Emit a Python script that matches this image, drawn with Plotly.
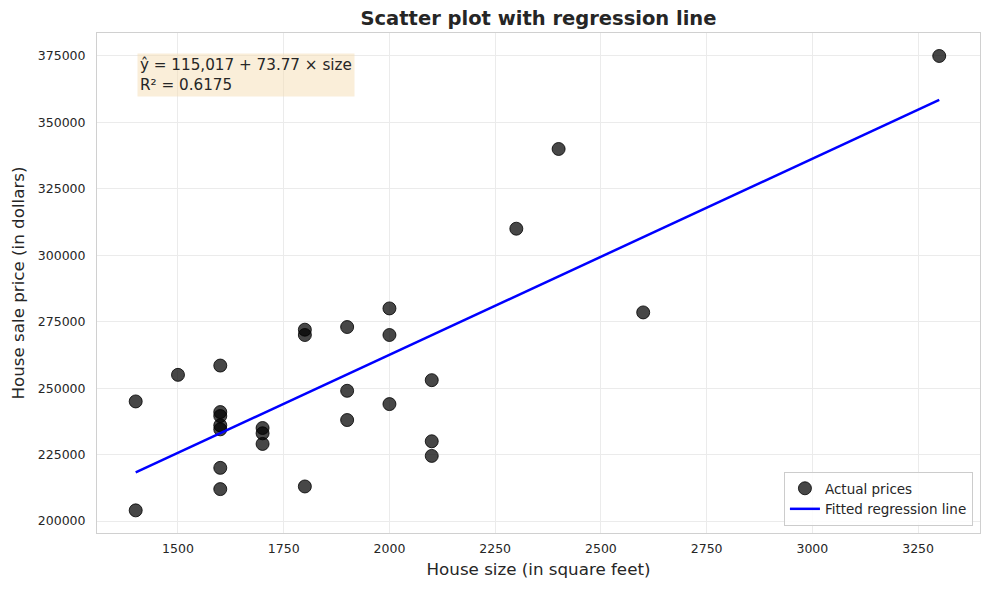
import plotly.graph_objects as go

# Data
house_size = [1400, 1400, 1500, 1600, 1600, 1600, 1600, 1600, 1600, 1600,
              1700, 1700, 1700, 1800, 1800, 1800, 1900, 1900, 1900,
              2000, 2000, 2000, 2100, 2100, 2100, 2300, 2400, 2600, 3300]
sale_price = [245000, 204000, 255000, 258500, 241000, 239500, 236000, 234500, 220000, 212000,
              235000, 233000, 229000, 272000, 270000, 213000, 273000, 249000, 238000,
              280000, 270000, 244000, 253000, 230000, 224500, 310000, 340000, 278500, 375000]
intercept = 115017
slope = 73.77
r_squared = 0.6175

x_ticks = [1500, 1750, 2000, 2250, 2500, 2750, 3000, 3250]
y_ticks = [200000, 225000, 250000, 275000, 300000, 325000, 350000, 375000]

line_x = [min(house_size), max(house_size)]
line_y = [intercept + slope * v for v in line_x]

FONT = "DejaVu Sans"
TXT = "#262626"

fig = go.Figure()
fig.add_trace(go.Scatter(
    x=house_size, y=sale_price, mode="markers", name="Actual prices",
    marker=dict(size=13, color="rgba(0,0,0,0.72)",
                line=dict(color="rgba(0,0,0,0.8)", width=1)),
))
fig.add_trace(go.Scatter(
    x=line_x, y=line_y, mode="lines", name="Fitted regression line",
    line=dict(color="#0000ff", width=2.5),
))

fig.add_annotation(
    xref="paper", yref="paper", x=0.0453, y=0.96, xanchor="left", yanchor="top",
    text=f"ŷ = {intercept:,} + {slope:.2f} × size<br>R² = {r_squared:.4f}",
    showarrow=False, align="left",
    font=dict(family=FONT, size=15.2, color=TXT),
    bgcolor="rgba(245,222,179,0.5)", borderpad=2,
)

axis_common = dict(
    showgrid=True, gridcolor="#ebebeb", gridwidth=1,
    showline=True, linecolor="#d0d0d0", linewidth=1, mirror=True,
    zeroline=False, automargin=False,
    ticks="outside", tickcolor="rgba(0,0,0,0)",
    tickfont=dict(family=FONT, size=12.5, color=TXT),
)

W, H = 981, 582
fig.update_layout(
    width=W, height=H,
    paper_bgcolor="white", plot_bgcolor="white",
    margin=dict(l=89, r=9, t=25, b=57),
    title=dict(text="<b>Scatter plot with regression line</b>", x=530.5 / W,
               xanchor="center", y=1 - 10 / H, yanchor="middle",
               font=dict(family=FONT, size=19.5, color=TXT)),
    xaxis=dict(range=[1308.5, 3396.4], tickvals=x_ticks, ticklen=4,
               title=dict(text="House size (in square feet)", font=dict(family=FONT, size=16.7, color=TXT), standoff=8),
               **axis_common),
    yaxis=dict(range=[195484, 383652], tickvals=y_ticks, tickformat="d", ticklen=8,
               title=dict(text="House sale price (in dollars)", font=dict(family=FONT, size=16.7, color=TXT), standoff=10),
               **axis_common),
    legend=dict(x=0.992, y=0.014, xanchor="right", yanchor="bottom",
                bgcolor="rgba(255,255,255,0.85)", bordercolor="#cccccc", borderwidth=1,
                font=dict(family=FONT, size=13.5, color=TXT), tracegroupgap=0),
    showlegend=True,
)

fig.write_html("out.html")
